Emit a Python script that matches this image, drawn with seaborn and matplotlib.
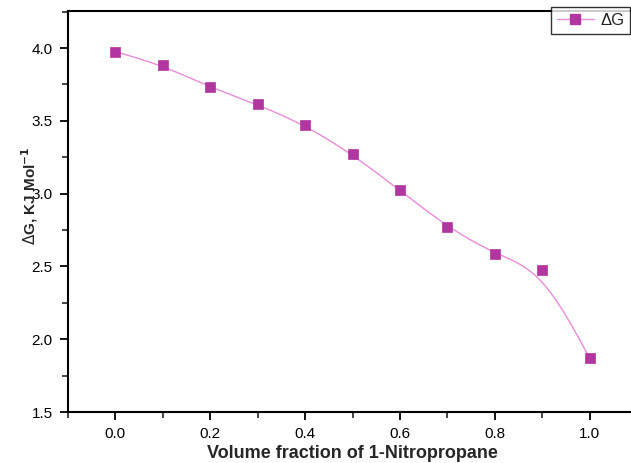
import numpy as np
import pandas as pd
import matplotlib
matplotlib.use("Agg")
import matplotlib.pyplot as plt
from matplotlib.lines import Line2D
from matplotlib.ticker import MultipleLocator
import seaborn as sns

# Data
volume_fraction = [0.0, 0.1, 0.2, 0.3, 0.4, 0.5, 0.6, 0.7, 0.8, 0.9, 1.0]
delta_g = [3.975, 3.88, 3.73, 3.612, 3.47, 3.27, 3.022, 2.77, 2.585, 2.472, 1.87]
x_ticks = [0.0, 0.2, 0.4, 0.6, 0.8, 1.0]
y_ticks = [1.5, 2.0, 2.5, 3.0, 3.5, 4.0]

sns.set_theme(style="ticks")
plt.rcParams['font.family'] = ['Liberation Sans', 'DejaVu Sans']

MARKER_C = "#B1369F"
LINE_C = "#E98CD8"


def bspline(xs, ys, n=40):
    P = np.column_stack([xs, ys])
    P = np.vstack([P[0], P[0], P, P[-1], P[-1]])
    out = []
    t = np.linspace(0, 1, n)
    for i in range(len(P) - 3):
        b0 = (1 - t) ** 3 / 6
        b1 = (3 * t ** 3 - 6 * t ** 2 + 4) / 6
        b2 = (-3 * t ** 3 + 3 * t ** 2 + 3 * t + 1) / 6
        b3 = t ** 3 / 6
        seg = (b0[:, None] * P[i] + b1[:, None] * P[i + 1]
               + b2[:, None] * P[i + 2] + b3[:, None] * P[i + 3])
        out.append(seg)
    return np.vstack(out)


curve = bspline(volume_fraction, delta_g)
df_curve = pd.DataFrame({"x": curve[:, 0], "y": curve[:, 1]})
df_pts = pd.DataFrame({"x": volume_fraction, "y": delta_g})

fig = plt.figure(figsize=(6.31, 4.63), dpi=100)
ax = fig.add_axes([68 / 631, 1 - 412 / 463, 569 / 631, 401 / 463])

sns.lineplot(data=df_curve, x="x", y="y", sort=False, color=LINE_C, lw=1.0, ax=ax)
sns.scatterplot(data=df_pts, x="x", y="y", marker="s", s=44, color=MARKER_C,
                edgecolor=MARKER_C, linewidth=0.5, ax=ax, zorder=3)

ax.set_xlim(-0.1, 1.1)
ax.set_ylim(1.5, 1.5 + 401 / 145.6)
ax.set_xticks(x_ticks)
ax.set_xticklabels([f"{v:.1f}" for v in x_ticks])
ax.set_yticks(y_ticks)
ax.set_yticklabels([f"{v:.1f}" for v in y_ticks])
ax.xaxis.set_minor_locator(MultipleLocator(0.1))
ax.yaxis.set_minor_locator(MultipleLocator(0.25))
ax.tick_params(which="major", direction="out", length=6, width=1.3, labelsize=11,
               colors="black", pad=5)
ax.tick_params(which="minor", direction="out", length=4, width=1.2)
for s in ["left", "bottom", "top", "right"]:
    ax.spines[s].set_linewidth(1.5)
    ax.spines[s].set_color("black")
ax.grid(False)

ax.set_xlabel("Volume fraction of 1-Nitropropane", fontsize=13, fontweight="bold",
              labelpad=3)
ax.set_ylabel(r"$\Delta$G, KJ Mol$^{\mathbf{-1}}$", fontsize=11, fontweight="bold")
ax.yaxis.set_label_coords((40 - 68) / 569, (412 - 196) / 401)

handle = Line2D([], [], color=LINE_C, lw=1.0, marker="s", markersize=7,
                markerfacecolor=MARKER_C, markeredgecolor=MARKER_C)
leg = fig.legend([handle], ["ΔG"], loc="upper left",
                 bbox_to_anchor=(551 / 631, 1 - 7 / 463),
                 frameon=True, fancybox=False, edgecolor="black",
                 fontsize=12, handlelength=2.2, borderpad=0.35,
                 handletextpad=0.4, borderaxespad=0)
leg.get_frame().set_linewidth(1.0)

fig.savefig("out.png", dpi=100)
